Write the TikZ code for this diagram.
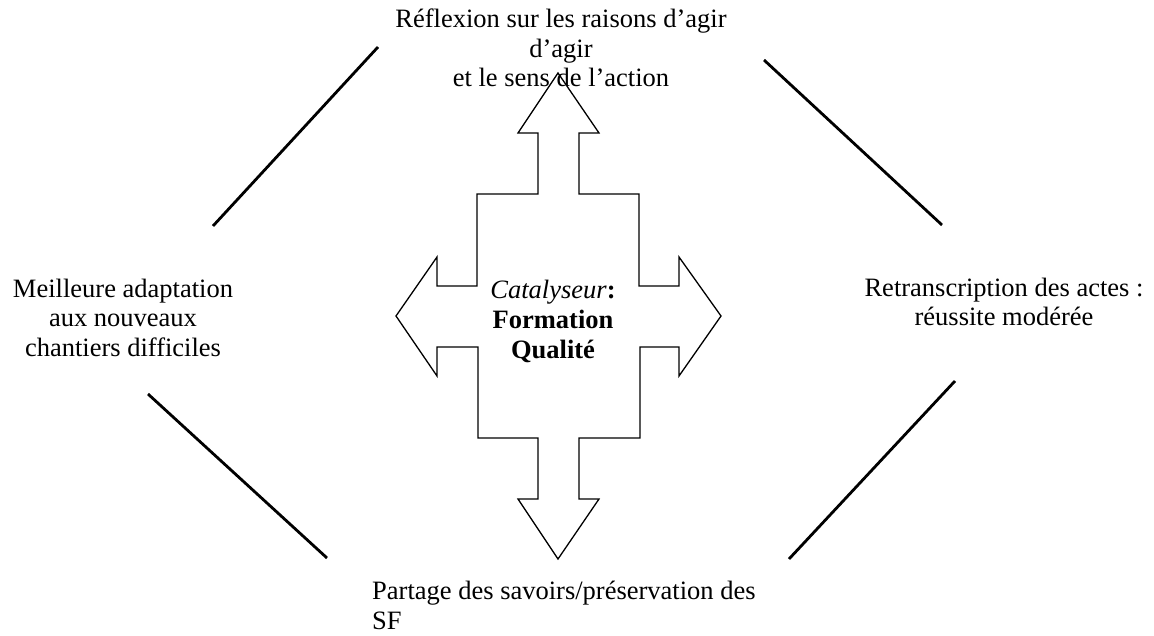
\documentclass[tikz,border=0pt]{standalone}
\usepackage{fontspec}
\setmainfont{Liberation Serif}
\begin{document}
\begin{tikzpicture}[x=1pt,y=-1pt,
  lbl/.style={inner sep=0pt,font=\fontsize{26.5}{29.5}\selectfont,anchor=base},
  diag/.style={line width=2.8pt},
  arrowshape/.style={line width=1.3pt,line join=miter}]
\useasboundingbox (0,0) rectangle (1154,636);
% cross-shaped four-way arrow
\draw[arrowshape] (558,73) -- (599,133) -- (579,133) -- (579,194) -- (639,194) -- (639,286)
  -- (679,286) -- (679,257) -- (721,316) -- (679,376) -- (679,347) -- (640,347)
  -- (640,438) -- (579,438) -- (579,499) -- (599,499) -- (558,559) -- (518,499)
  -- (538,499) -- (538,438) -- (478,438) -- (478,347) -- (437,347) -- (437,376)
  -- (396,316) -- (437,257) -- (437,286) -- (477,286) -- (477,194) -- (538,194)
  -- (538,133) -- (518,133) -- cycle;
% diagonal lines
\draw[diag] (213,226) -- (378,47);
\draw[diag] (764,60) -- (942,225);
\draw[diag] (148,394) -- (327,558);
\draw[diag] (789,559) -- (955,381);
% labels (anchor base = baseline of last line)
\node[lbl,align=center] (top) at (561,87) {Réflexion sur les raisons d’agir\\d’agir\\et le sens de l’action};
\node[lbl,align=center] (left) at (123,356) {Meilleure adaptation\\aux nouveaux\\chantiers difficiles};
\node[lbl,align=center] (right) at (1004,326) {Retranscription des actes :\\réussite modérée};
\node[lbl,align=left,anchor=base west] (bottom) at (372,629) {Partage des savoirs/préservation des\\SF};
\node[lbl,align=center] (center) at (553,358) {\textit{Catalyseur}\textbf{:}\\\textbf{Formation}\\\textbf{Qualité}};
\end{tikzpicture}
\end{document}
